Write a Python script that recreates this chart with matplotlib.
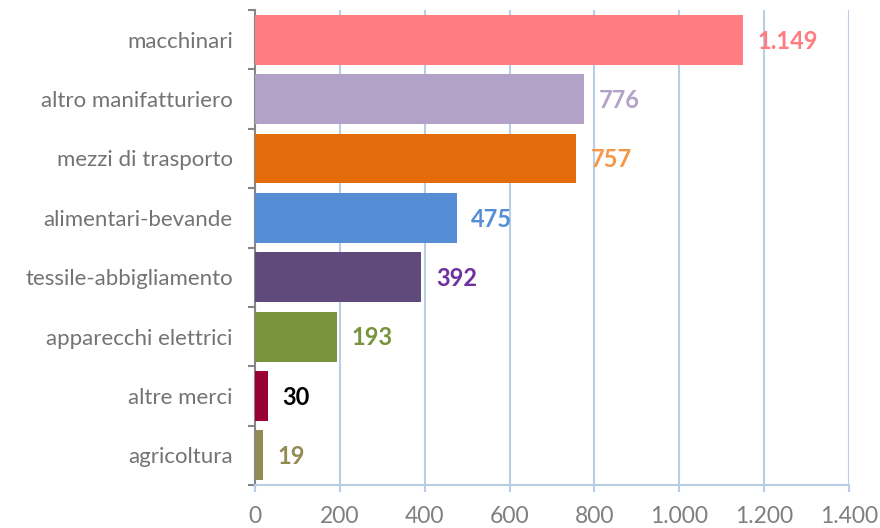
import matplotlib
matplotlib.use("Agg")
import matplotlib.pyplot as plt
import numpy as np

categories = ["macchinari", "altro manifatturiero", "mezzi di trasporto",
              "alimentari-bevande", "tessile-abbigliamento", "apparecchi elettrici",
              "altre merci", "agricoltura"]
values = [1149, 776, 757, 475, 392, 193, 30, 19]
value_labels = ["1.149", "776", "757", "475", "392", "193", "30", "19"]
bar_colors = ["#FF7C80", "#B3A2C7", "#E46C0A", "#558ED5", "#604A7B", "#77933C", "#990033", "#948A54"]
label_colors = ["#FF7C80", "#B3A2C7", "#F79646", "#558ED5", "#7030A0", "#77933C", "#000000", "#948A54"]
xticks = [0, 200, 400, 600, 800, 1000, 1200, 1400]
xtick_labels = ["0", "200", "400", "600", "800", "1.000", "1.200", "1.400"]

plt.rcParams['font.family'] = ['Lato', 'DejaVu Sans']

fig = plt.figure(figsize=(8.8, 5.28), dpi=100)
ax = fig.add_axes([255/880, 1-485/528, (849-255)/880, (485-10)/528])

y = np.arange(len(categories))
ax.barh(y, values, height=0.84, color=bar_colors, zorder=3)
ax.set_ylim(len(categories)-0.5, -0.5)
ax.set_xlim(0, 1400)

for yi, v, lab, c in zip(y, values, value_labels, label_colors):
    ax.annotate(lab, xy=(v, yi), xytext=(10.5, -1), textcoords="offset points",
                ha="left", va="center", fontsize=17, fontweight="bold", color=c)

ax.set_xticks(xticks)
ax.set_xticklabels(xtick_labels, fontsize=16.5, color="#7F7F7F")
ax.xaxis.grid(True, color="#B9CDE5", linewidth=1.5, zorder=0)
ax.tick_params(axis="x", length=5, color="#B9CDE5", width=1.5, pad=10)

ax.set_yticks(y)
ax.set_yticklabels(categories, fontsize=16, color="#737373")
ax.tick_params(axis="y", length=0, pad=16)
ax.set_yticks(np.arange(-0.5, len(categories)), minor=True)
ax.tick_params(axis="y", which="minor", length=5, color="#868686", width=1.5)

for s in ["top", "right"]:
    ax.spines[s].set_visible(False)
for s in ["left", "bottom"]:
    ax.spines[s].set_color("#868686")
    ax.spines[s].set_linewidth(1.5)
ax.spines["bottom"].set_color("#B9CDE5")

fig.savefig("out.png", dpi=100)
